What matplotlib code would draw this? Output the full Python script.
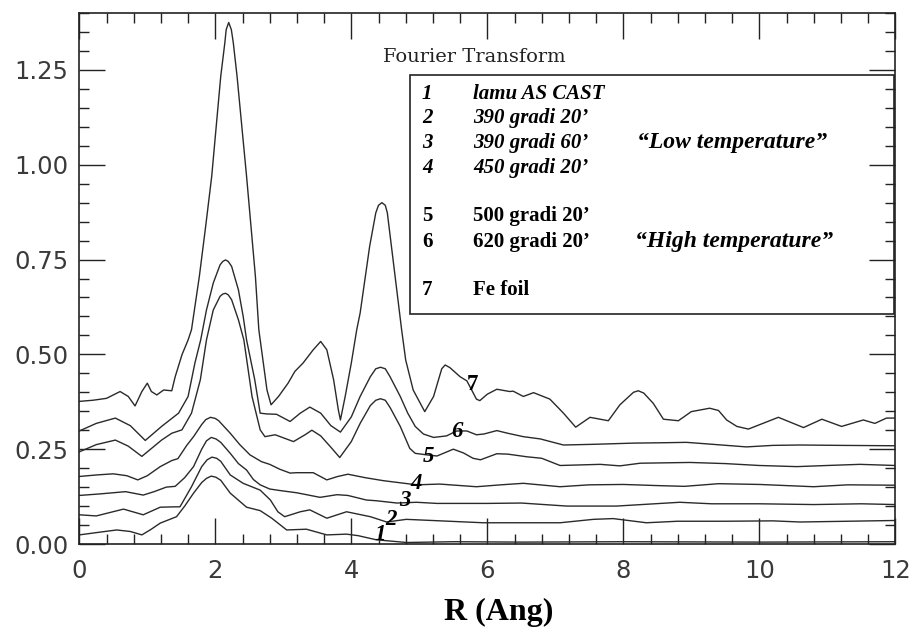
import matplotlib
matplotlib.use("Agg")
import matplotlib.pyplot as plt
from matplotlib.ticker import MultipleLocator, FormatStrFormatter
from matplotlib.patches import Rectangle

# ---------------- data ----------------
r7 = [0.00, 0.20, 0.40, 0.60, 0.72, 0.82, 0.92, 1.00, 1.06, 1.14, 1.24, 1.36, 1.41, 1.51, 1.60, 1.65,
      1.765, 1.86, 1.947, 2.08, 2.14, 2.16, 2.197, 2.236, 2.265, 2.32, 2.46, 2.59, 2.64, 2.76, 2.82, 2.93, 3.07, 3.17,
      3.29, 3.44, 3.55, 3.64, 3.74, 3.81, 3.84, 3.91, 4.00, 4.08, 4.13, 4.27, 4.36, 4.40, 4.45, 4.50, 4.53, 4.59,
      4.71, 4.74, 4.80, 4.91, 5.08, 5.21, 5.33, 5.38, 5.45, 5.60, 5.70, 5.84, 5.89, 6.00, 6.14, 6.33, 6.38,
      6.53, 6.68, 6.92, 7.12, 7.30, 7.51, 7.78, 7.95, 8.15, 8.22, 8.30, 8.44, 8.59, 8.81, 9.00, 9.27, 9.40, 9.52,
      9.67, 9.84, 10.28, 10.65, 10.92, 11.21, 11.53, 11.70, 11.87, 12.00]
y7 = [0.376, 0.379, 0.384, 0.402, 0.389, 0.364, 0.402, 0.424, 0.402, 0.393, 0.406, 0.404, 0.441, 0.499, 0.538, 0.565,
      0.705, 0.840, 0.969, 1.233, 1.321, 1.356, 1.375, 1.356, 1.321, 1.233, 0.969, 0.705, 0.565, 0.406, 0.367, 0.389, 0.424, 0.455,
      0.477, 0.512, 0.534, 0.512, 0.433, 0.353, 0.327, 0.389, 0.477, 0.565, 0.609, 0.785, 0.873, 0.893, 0.900, 0.893, 0.873, 0.785,
      0.609, 0.565, 0.485, 0.406, 0.349, 0.389, 0.462, 0.472, 0.465, 0.441, 0.430, 0.382, 0.378, 0.395, 0.408, 0.402, 0.403,
      0.389, 0.399, 0.382, 0.345, 0.308, 0.334, 0.325, 0.367, 0.400, 0.404, 0.398, 0.371, 0.329, 0.325, 0.349, 0.358, 0.352, 0.327,
      0.310, 0.303, 0.334, 0.307, 0.329, 0.310, 0.327, 0.318, 0.332, 0.332]

r6 = [0.00, 0.25, 0.53, 0.75, 0.97, 1.21, 1.46, 1.60, 1.70, 1.785, 1.87, 1.97, 2.07, 2.11, 2.15, 2.19, 2.24, 2.34,
      2.41, 2.46, 2.58, 2.66, 2.75, 2.90, 3.10, 3.25, 3.39, 3.55, 3.70, 3.84, 4.00, 4.13, 4.28, 4.36, 4.43,
      4.50, 4.57, 4.72, 4.83, 4.94, 5.06, 5.21, 5.40, 5.55, 5.70, 5.84, 5.95, 6.14, 6.30, 6.53, 6.78, 7.12,
      7.60, 8.15, 8.60, 8.93, 9.30, 9.81, 10.20, 10.60, 11.20, 12.00]
y6 = [0.298, 0.318, 0.332, 0.312, 0.273, 0.310, 0.345, 0.389, 0.477, 0.538, 0.617, 0.688, 0.736, 0.745, 0.749, 0.745, 0.732, 0.670,
      0.600, 0.538, 0.433, 0.345, 0.343, 0.342, 0.323, 0.345, 0.361, 0.345, 0.312, 0.295, 0.335, 0.389, 0.441, 0.462, 0.466,
      0.462, 0.441, 0.389, 0.345, 0.310, 0.290, 0.281, 0.285, 0.298, 0.298, 0.288, 0.290, 0.299, 0.292, 0.283, 0.277, 0.261,
      0.263, 0.266, 0.267, 0.268, 0.263, 0.256, 0.260, 0.261, 0.260, 0.259]

r5 = [0.00, 0.25, 0.53, 0.72, 0.92, 1.21, 1.36, 1.51, 1.65, 1.78, 1.87, 1.97, 2.07, 2.11, 2.15, 2.19, 2.24, 2.34,
      2.42, 2.54, 2.66, 2.73, 2.88, 3.15, 3.32, 3.42, 3.55, 3.70, 3.83, 4.00, 4.13, 4.28, 4.36, 4.43, 4.50, 4.57,
      4.72, 4.86, 4.94, 5.11, 5.26, 5.50, 5.65, 5.79, 5.90, 6.14, 6.30, 6.58, 6.80, 7.07, 7.66, 7.95,
      8.25, 8.98, 9.50, 10.00, 10.55, 11.00, 11.48, 12.00]
y5 = [0.243, 0.262, 0.274, 0.258, 0.231, 0.274, 0.292, 0.301, 0.345, 0.433, 0.538, 0.617, 0.653, 0.659, 0.661, 0.657, 0.644, 0.591,
      0.538, 0.389, 0.301, 0.283, 0.288, 0.270, 0.288, 0.300, 0.285, 0.255, 0.228, 0.270, 0.318, 0.365, 0.379, 0.383, 0.379, 0.360,
      0.310, 0.252, 0.239, 0.235, 0.232, 0.250, 0.240, 0.226, 0.222, 0.238, 0.237, 0.230, 0.226, 0.207, 0.210, 0.206,
      0.213, 0.215, 0.212, 0.207, 0.204, 0.207, 0.210, 0.207]

r4 = [0.00, 0.25, 0.50, 0.70, 0.86, 1.00, 1.19, 1.36, 1.45, 1.58, 1.68, 1.80, 1.86, 1.93, 2.00, 2.05, 2.22, 2.36,
      2.51, 2.68, 2.80, 2.95, 3.10, 3.20, 3.44, 3.64, 3.80, 3.95, 4.20, 4.47, 4.96, 5.30, 5.84, 6.20,
      6.53, 7.07, 7.50, 8.00, 8.50, 8.90, 9.40, 10.00, 10.80, 11.30, 12.00]
y4 = [0.178, 0.182, 0.185, 0.180, 0.169, 0.180, 0.204, 0.220, 0.225, 0.260, 0.283, 0.315, 0.328, 0.334, 0.331, 0.325, 0.292, 0.262,
      0.235, 0.217, 0.210, 0.197, 0.187, 0.188, 0.188, 0.169, 0.178, 0.184, 0.175, 0.167, 0.156, 0.158, 0.151, 0.156,
      0.160, 0.151, 0.156, 0.157, 0.154, 0.152, 0.159, 0.157, 0.151, 0.156, 0.155]

r3 = [0.00, 0.30, 0.68, 0.94, 1.10, 1.28, 1.41, 1.55, 1.68, 1.80, 1.87, 1.94, 2.01, 2.08, 2.22, 2.34, 2.46, 2.56,
      2.66, 2.80, 2.95, 3.20, 3.54, 3.79, 3.95, 4.22, 4.37, 4.67, 4.96, 5.26, 6.00, 6.50, 7.17, 7.90,
      8.83, 9.30, 10.00, 10.80, 11.50, 12.00]
y3 = [0.128, 0.132, 0.138, 0.129, 0.138, 0.150, 0.152, 0.175, 0.204, 0.250, 0.272, 0.281, 0.277, 0.268, 0.239, 0.212, 0.195, 0.170,
      0.156, 0.145, 0.141, 0.135, 0.123, 0.130, 0.128, 0.116, 0.114, 0.108, 0.110, 0.107, 0.107, 0.108, 0.100, 0.100,
      0.110, 0.106, 0.106, 0.104, 0.106, 0.104]

r2 = [0.00, 0.25, 0.65, 0.94, 1.19, 1.41, 1.48, 1.50, 1.65, 1.80, 1.88, 1.95, 2.02, 2.08, 2.22, 2.41, 2.66, 2.81,
      2.92, 3.02, 3.25, 3.39, 3.64, 3.93, 4.28, 4.52, 4.81, 5.06, 5.94, 7.07, 7.56, 7.85, 8.34, 8.80,
      9.50, 10.20, 10.60, 11.30, 12.00]
y2 = [0.077, 0.074, 0.092, 0.077, 0.097, 0.098, 0.098, 0.104, 0.151, 0.204, 0.222, 0.229, 0.226, 0.218, 0.182, 0.160, 0.142, 0.116,
      0.085, 0.072, 0.085, 0.090, 0.068, 0.085, 0.072, 0.058, 0.065, 0.063, 0.056, 0.056, 0.065, 0.067, 0.056, 0.060,
      0.060, 0.061, 0.058, 0.060, 0.062]

r1 = [0.00, 0.25, 0.55, 0.75, 0.92, 1.05, 1.19, 1.43, 1.55, 1.68, 1.80, 1.87, 1.94, 2.01, 2.08, 2.22, 2.46, 2.66,
      2.83, 3.05, 3.34, 3.64, 3.93, 4.10, 4.37, 4.81, 5.50, 6.50, 8.00, 10.00, 12.00]
y1 = [0.024, 0.030, 0.037, 0.033, 0.024, 0.038, 0.055, 0.072, 0.100, 0.134, 0.162, 0.173, 0.179, 0.176, 0.168, 0.134, 0.097, 0.088,
      0.068, 0.037, 0.039, 0.024, 0.026, 0.022, 0.011, 0.004, 0.006, 0.005, 0.006, 0.005, 0.006]

curves = [(r1, y1), (r2, y2), (r3, y3), (r4, y4), (r5, y5), (r6, y6), (r7, y7)]

curve_labels = ["1", "2", "3", "4", "5", "6", "7"]
label_r = [4.42, 4.59, 4.79, 4.96, 5.14, 5.55, 5.78]
label_y = [0.024, 0.065, 0.116, 0.160, 0.232, 0.296, 0.420]
label_style = ["italic", "italic", "italic", "italic", "italic", "italic", "normal"]

legend_nums = ["1", "2", "3", "4", "5", "6", "7"]
legend_names = ["lamu AS CAST", "390 gradi 20\u2019", "390 gradi 60\u2019", "450 gradi 20\u2019",
                "500 gradi 20\u2019", "620 gradi 20\u2019", "Fe foil"]
legend_style = ["italic", "italic", "italic", "italic", "normal", "normal", "normal"]
group_notes = ["\u201cLow temperature\u201d", "\u201cHigh temperature\u201d"]

xticks = [0, 2, 4, 6, 8, 10, 12]
yticks = [0.00, 0.25, 0.50, 0.75, 1.00, 1.25]

# ---------------- figure ----------------
W, H = 914, 630
fig = plt.figure(figsize=(W / 100, H / 100), dpi=100)
ax = fig.add_axes([79.3 / W, 86 / H, 816 / W, 531 / H])

def fx(px):
    return px / W

def fy(py):
    return 1 - py / H

line_color = "#2a2a2a"
for r, y in curves:
    ax.plot(r, y, color=line_color, lw=1.0)

ax.set_xlim(0, 12)
ax.set_ylim(0, 1.40)
ax.set_xticks(xticks)
ax.set_yticks(yticks)
ax.xaxis.set_minor_locator(MultipleLocator(0.4))
ax.yaxis.set_minor_locator(MultipleLocator(0.05))
ax.yaxis.set_major_formatter(FormatStrFormatter("%.2f"))
ax.tick_params(which="both", direction="in", top=True, right=True, colors="#222222", width=1.0)
ax.tick_params(which="major", length=18.5)
ax.tick_params(which="minor", length=7)
ax.tick_params(axis="y", which="major", pad=8, labelsize=17.5)
ax.tick_params(axis="x", which="major", pad=11, labelsize=17.5)
for lab in ax.get_xticklabels() + ax.get_yticklabels():
    lab.set_color("#3a3a3a")
for s in ax.spines.values():
    s.set_linewidth(1.2)
    s.set_color("#222222")

# curve number labels
for t, xr, yv, st in zip(curve_labels, label_r, label_y, label_style):
    ax.text(xr, yv, t, family="Liberation Serif", weight="bold", style=st, fontsize=16.5,
            ha="center", va="center", color="black")

# title text
fig.text(fx(383), fy(61.7), "Fourier Transform", family="DejaVu Serif", fontsize=14,
         ha="left", va="baseline", color="#222222")

# legend box
ax.add_patch(Rectangle((0.4053, 0.4331), 0.9984 - 0.4053, 0.8832 - 0.4331, transform=ax.transAxes,
                       fill=False, lw=1.2, ec="#222222", zorder=3))

row_base = [99.3, 122.7, 147.7, 173.3, 220.7, 246.7, 295.0]
for num, name, st, yb in zip(legend_nums, legend_names, legend_style, row_base):
    fig.text(fx(422), fy(yb), num, family="Liberation Serif", weight="bold", style=st,
             fontsize=15, ha="left", va="baseline")
    fig.text(fx(473), fy(yb), name, family="Liberation Serif", weight="bold", style=st,
             fontsize=15, ha="left", va="baseline")
fig.text(fx(637), fy(147.7), group_notes[0], family="Liberation Serif", weight="bold", style="italic",
         fontsize=17, ha="left", va="baseline")
fig.text(fx(635), fy(246.7), group_notes[1], family="Liberation Serif", weight="bold", style="italic",
         fontsize=17, ha="left", va="baseline")

# x label
fig.text(fx(499), fy(620), "R (Ang)", family="Liberation Serif", weight="bold", fontsize=23,
         ha="center", va="baseline")

fig.savefig("out.png", dpi=100)
